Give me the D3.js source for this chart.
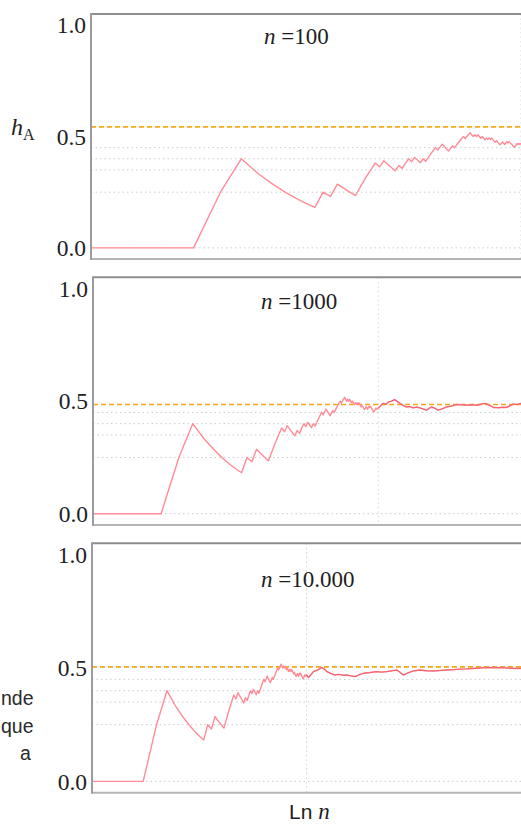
<!DOCTYPE html>
<html>
<head>
<meta charset="utf-8">
<script src="https://cdn.jsdelivr.net/npm/d3@7/dist/d3.min.js"></script>
<style>
  html, body { margin: 0; padding: 0; background: #fff; }
  svg { display: block; }
</style>
</head>
<body>
<svg id="chart" width="521" height="825"></svg>
<script>
// Running share of outcome A, h_A, after n trials (n = 1 … 100), shared by all three runs
const h100 = [
  0, 0, 0, 0.25, 0.4, 0.333, 0.286, 0.25, 0.222, 0.2,
  0.182, 0.25, 0.231, 0.286, 0.267, 0.25, 0.235, 0.278, 0.316, 0.35,
  0.381, 0.364, 0.391, 0.375, 0.36, 0.346, 0.37, 0.357, 0.379, 0.4,
  0.387, 0.406, 0.394, 0.382, 0.4, 0.389, 0.405, 0.421, 0.436, 0.45,
  0.439, 0.452, 0.465, 0.455, 0.444, 0.435, 0.447, 0.458, 0.449, 0.46,
  0.471, 0.481, 0.491, 0.5, 0.491, 0.5, 0.509, 0.517, 0.508, 0.5,
  0.508, 0.5, 0.508, 0.5, 0.492, 0.5, 0.493, 0.485, 0.493, 0.486,
  0.493, 0.486, 0.493, 0.486, 0.48, 0.474, 0.481, 0.474, 0.468, 0.463,
  0.469, 0.476, 0.47, 0.464, 0.471, 0.477, 0.471, 0.477, 0.472, 0.467,
  0.462, 0.457, 0.452, 0.457, 0.463, 0.469, 0.464, 0.469, 0.465, 0.47
];

// Continuation of the run up to n = 1000: [n, h_A]
const tail1000 = [
  [104, 0.48], [108, 0.49], [114, 0.487], [118, 0.497], [124, 0.5], [130, 0.507],
  [135, 0.5], [142, 0.49], [150, 0.48], [158, 0.474], [166, 0.476], [175, 0.47],
  [186, 0.474], [200, 0.468], [218, 0.46], [236, 0.475], [250, 0.468], [263, 0.46],
  [280, 0.466], [300, 0.474], [325, 0.478], [354, 0.485], [385, 0.484], [415, 0.482],
  [450, 0.484], [490, 0.482], [525, 0.487], [560, 0.49], [600, 0.482], [640, 0.472],
  [700, 0.471], [750, 0.473], [795, 0.472], [840, 0.48], [885, 0.487], [940, 0.485],
  [1000, 0.49]
];

// Continuation of the run up to n = 10 000: [n, h_A]
const tail10000 = [
  [104, 0.458], [110, 0.47], [116, 0.484], [125, 0.49], [139, 0.502], [147, 0.495],
  [155, 0.484], [168, 0.476], [184, 0.469], [200, 0.472], [220, 0.468], [237, 0.469],
  [260, 0.465], [285, 0.462], [310, 0.47], [340, 0.477], [390, 0.48], [450, 0.484],
  [500, 0.482], [560, 0.484], [630, 0.488], [695, 0.491], [750, 0.48], [800, 0.469],
  [880, 0.478], [990, 0.487], [1140, 0.491], [1300, 0.488], [1510, 0.487], [1750, 0.489],
  [2030, 0.491], [2350, 0.493], [2690, 0.495], [3100, 0.496], [3610, 0.498], [4200, 0.5],
  [4800, 0.502], [5600, 0.501], [6400, 0.502], [7400, 0.5], [8560, 0.498], [10000, 0.498]
];

const runSizes = [100, 1000, 10000];
const runTitles = ["100", "1000", "10.000"];
const runTails = [[], tail1000, tail10000];
const referenceLevels = [0.543, 0.485, 0.505];
const gridLevels = [0, 0.25, 0.35, 0.40, 0.45];
const gridLnN = [Math.log(100)];
const yTickValues = [0, 0.5, 1];
const yTickLabels = ["0.0", "0.5", "1.0"];
const sideText = ["nde", "que", "a"];

// Panel geometry
const layout = [
  { left: 91, top: 14,    bottom: 259,   titleX: 264, titleY: 44 },
  { left: 93, top: 277.3, bottom: 525,   titleX: 261, titleY: 309 },
  { left: 92, top: 543.3, bottom: 792.7, titleX: 261, titleY: 587 }
];
const plotRight = 521;
const sideX = [1, 1, 20];

const svg = d3.select("#chart");
svg.append("rect").attr("width", 521).attr("height", 825).attr("fill", "#fff");

const serif = "'Liberation Serif', 'Times New Roman', serif";
const sans = "'Liberation Sans', Arial, sans-serif";

runSizes.forEach((N, i) => {
  const L = layout[i];
  const x = d3.scaleLinear().domain([0, Math.log(N)]).range([L.left, plotRight]);
  const y = d3.scaleLinear().domain([-0.05, 1.05]).range([L.bottom, L.top]);
  const g = svg.append("g");

  // dotted grid
  g.selectAll(".hgrid").data(gridLevels).join("line")
    .attr("x1", L.left).attr("x2", plotRight)
    .attr("y1", d => y(d)).attr("y2", d => y(d))
    .attr("stroke", "#c9cccc").attr("stroke-width", 1)
    .attr("stroke-dasharray", "1.5,3");
  g.selectAll(".vgrid").data(gridLnN).join("line")
    .attr("x1", d => x(d)).attr("x2", d => x(d))
    .attr("y1", L.top).attr("y2", L.bottom)
    .attr("stroke", "#d4d6d6").attr("stroke-width", 1)
    .attr("stroke-dasharray", "1.5,3");

  // reference level
  g.append("line")
    .attr("x1", L.left).attr("x2", plotRight)
    .attr("y1", y(referenceLevels[i])).attr("y2", y(referenceLevels[i]))
    .attr("stroke", "#f5a81c").attr("stroke-width", 1.6)
    .attr("stroke-dasharray", "5,3");

  // running share
  const head = h100.map((h, k) => [k + 1, h]);
  const series = head.concat(runTails[i]);
  const line = d3.line().x(d => x(Math.log(d[0]))).y(d => y(d[1]));
  g.append("path").attr("d", line(series))
    .attr("fill", "none").attr("stroke", "#ff8c96").attr("stroke-width", 1.4)
    .attr("stroke-linejoin", "round");
  if (runTails[i].length) {
    g.append("path").attr("d", line([head[head.length - 1]].concat(runTails[i])))
      .attr("fill", "none").attr("stroke", "#ee4656").attr("stroke-opacity", 0.6)
      .attr("stroke-width", 1.2).attr("stroke-linejoin", "round");
  }

  // frame
  g.append("line").attr("x1", L.left).attr("x2", 530).attr("y1", L.top).attr("y2", L.top)
    .attr("stroke", "#8e8e92").attr("stroke-width", 2);
  g.append("line").attr("x1", L.left).attr("x2", 530).attr("y1", L.bottom).attr("y2", L.bottom)
    .attr("stroke", "#b4b4b8").attr("stroke-width", 2);
  g.append("line").attr("x1", L.left).attr("x2", L.left).attr("y1", L.top - 1).attr("y2", L.bottom + 1)
    .attr("stroke", "#9c9ca0").attr("stroke-width", 2);

  // y tick labels
  g.selectAll(".ytick").data(yTickValues).join("text")
    .attr("x", L.left - 5).attr("y", d => y(d)).attr("dy", "0.35em")
    .attr("text-anchor", "end")
    .attr("font-family", serif).attr("font-size", 23.5).attr("fill", "#1e1e1e")
    .text((d, k) => yTickLabels[k]);

  // run size title
  const t = g.append("text").attr("x", L.titleX).attr("y", L.titleY)
    .attr("font-family", serif).attr("font-size", 23).attr("fill", "#1e1e1e");
  t.append("tspan").attr("font-style", "italic").text("n");
  t.append("tspan").text(" =" + runTitles[i]);
});

// y axis name
const ha = svg.append("text").attr("x", 11).attr("y", 135)
  .attr("font-family", serif).attr("fill", "#1e1e1e");
ha.append("tspan").attr("font-style", "italic").attr("font-size", 24).text("h");
ha.append("tspan").attr("font-size", 16).attr("dy", 5).text("A");

// x axis name
const xl = svg.append("text").attr("x", 289).attr("y", 819).attr("fill", "#1e1e1e");
xl.append("tspan").attr("font-family", sans).attr("font-size", 21).text("Ln ");
xl.append("tspan").attr("font-family", serif).attr("font-style", "italic").attr("font-size", 23).text("n");

// running text from the surrounding page
svg.selectAll(".side").data(sideText).join("text")
  .attr("x", (d, k) => sideX[k]).attr("y", (d, k) => 705 + k * 27.5)
  .attr("font-family", sans).attr("font-size", 19.5).attr("fill", "#2a2a2a")
  .text(d => d);
</script>
</body>
</html>
